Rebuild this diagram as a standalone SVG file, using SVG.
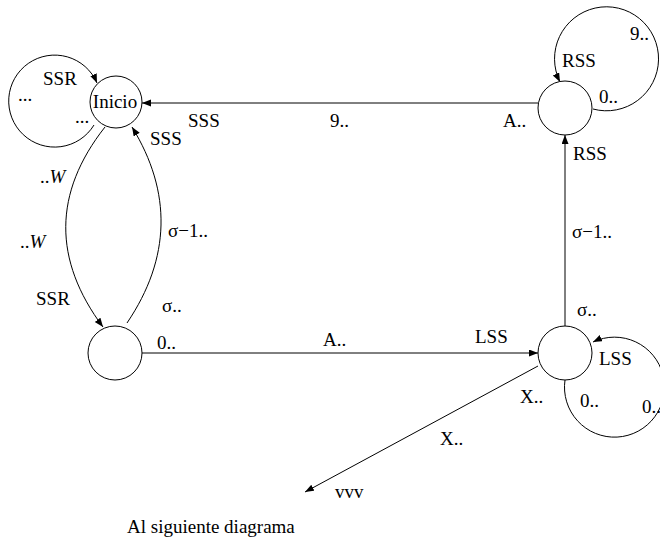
<svg xmlns="http://www.w3.org/2000/svg" width="660" height="542" viewBox="0 0 660 542">
  <style>
    .state { fill: #ffffff; stroke: #000000; stroke-width: 1; }
    .edge { fill: none; stroke: #000000; stroke-width: 1; }
    .arrow { marker-end: url(#head); }
    text { font-family: "Liberation Serif", "Times New Roman", serif; font-size: 19px; fill: #000000; }
    .c { text-anchor: middle; }
  </style>
  <defs>
    <marker id="head" markerUnits="userSpaceOnUse" markerWidth="10" markerHeight="8" refX="9" refY="3.5" orient="auto">
      <path d="M0,0 L9,3.5 L0,7 Z" fill="#000000"/>
    </marker>
  </defs>
  <rect width="660" height="542" fill="#ffffff"/>

  <!-- transitions -->
  <g id="connectors">
    <!-- self loop on Inicio -->
    <path class="edge arrow" d="M 94 125 A 46 46 0 1 1 97 83"/>
    <!-- Inicio down to lower-left state -->
    <path class="edge arrow" d="M 105 127 C 53 193, 53 260, 103 327"/>
    <!-- lower-left state back up to Inicio -->
    <path class="edge arrow" d="M 127 323 C 171 258, 172 192, 132 127"/>
    <!-- upper-right state to Inicio -->
    <path class="edge arrow" d="M 538 103 L 142 103"/>
    <!-- self loop on upper-right state -->
    <path class="edge arrow" d="M 593 109 A 52 52 0 1 0 560 82"/>
    <!-- lower-left to lower-right -->
    <path class="edge arrow" d="M 142 353 L 538 353"/>
    <!-- lower-right up to upper-right -->
    <path class="edge arrow" d="M 565 326 L 565 135"/>
    <!-- self loop on lower-right state -->
    <path class="edge arrow" d="M 565 380 A 50 50 0 1 0 593 342"/>
    <!-- exit to the next diagram -->
    <path class="edge arrow" d="M 538 366 L 305 492"/>
  </g>

  <!-- states -->
  <g id="inicio">
    <circle class="state" cx="116" cy="102" r="26"/>
    <text class="c" x="115" y="108">Inicio</text>
  </g>
  <g id="upper-right">
    <circle class="state" cx="565" cy="108" r="27"/>
  </g>
  <g id="lower-left">
    <circle class="state" cx="115" cy="353" r="27"/>
  </g>
  <g id="lower-right">
    <circle class="state" cx="565" cy="353" r="27"/>
  </g>

  <!-- transition labels -->
  <g id="labels">
    <text x="43" y="85">SSR</text>
    <text x="18" y="101">...</text>
    <text x="75" y="123">...</text>
    <text x="188" y="127">SSS</text>
    <text x="150" y="145">SSS</text>
    <text x="330" y="127">9..</text>
    <text x="503" y="127">A..</text>

    <text x="630" y="40">9..</text>
    <text x="562" y="67">RSS</text>
    <text x="599" y="103">0..</text>
    <text x="573" y="160">RSS</text>
    <text x="572" y="238">σ−1..</text>
    <text x="577" y="316">σ..</text>

    <text x="599" y="365">LSS</text>
    <text x="580" y="407">0..</text>
    <text x="642" y="413">0..</text>
    <text x="520" y="403">X..</text>
    <text x="475" y="343">LSS</text>
    <text x="323" y="346">A..</text>
    <text x="157" y="349">0..</text>

    <text x="440" y="445">X..</text>
    <text x="335" y="498">vvv</text>

    <text x="40" y="183">..<tspan font-style="italic">W</tspan></text>
    <text x="20" y="248">..<tspan font-style="italic">W</tspan></text>
    <text x="36" y="305">SSR</text>
    <text x="168" y="237">σ−1..</text>
    <text x="162" y="312">σ..</text>

    <text x="127" y="533">Al siguiente diagrama</text>
  </g>
</svg>
